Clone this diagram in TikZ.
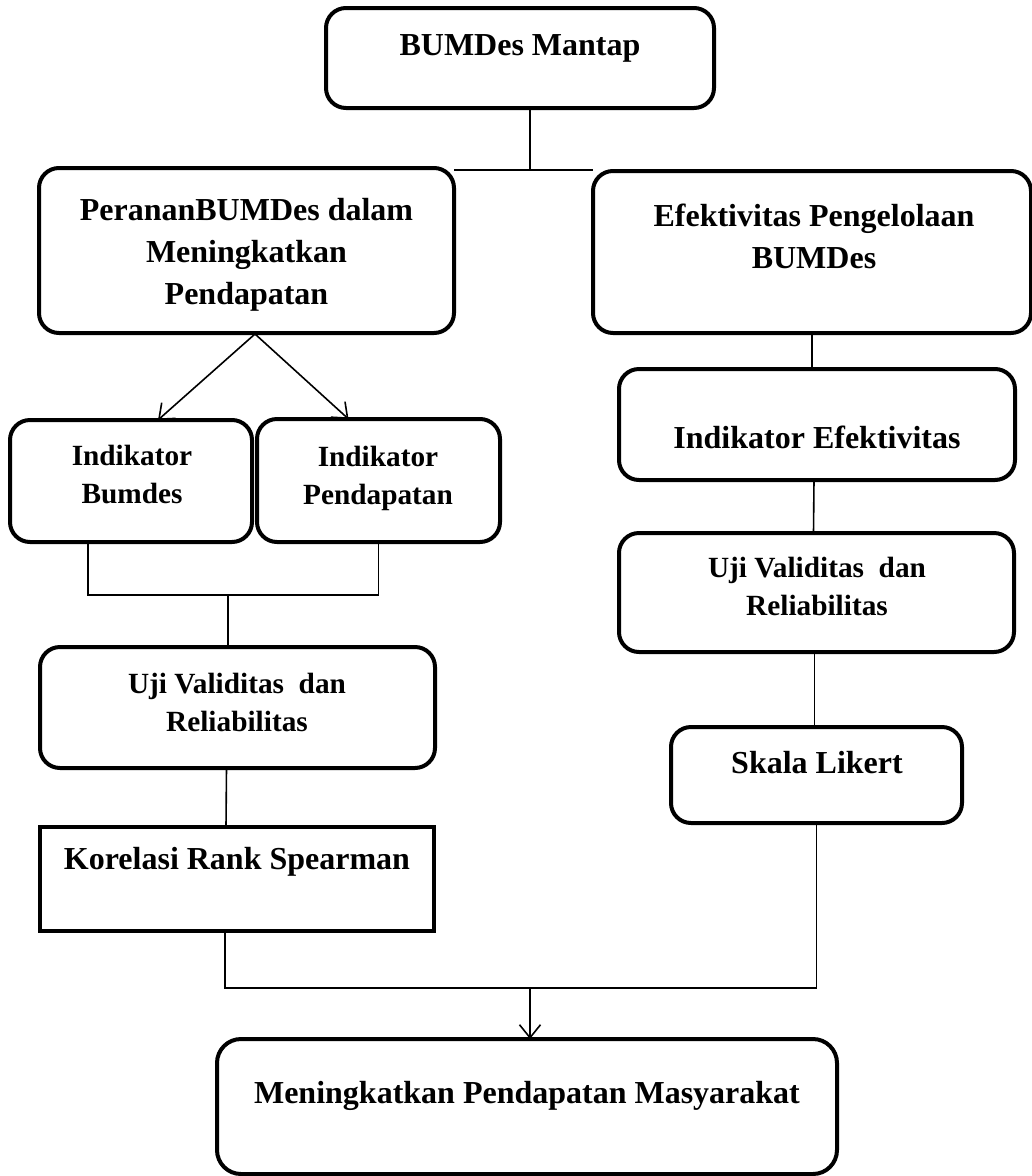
\documentclass[tikz,border=0pt]{standalone}
\usepackage{fontspec}
\setmainfont{Liberation Serif}
\usepackage{tikz}
\usetikzlibrary{arrows.meta, calc}

\begin{document}
\begin{tikzpicture}[
    x=1pt, y=-1pt,
    box/.style 2 args={rectangle, rounded corners=20pt, draw=black, line width=4pt, inner sep=0pt, outer sep=0pt, minimum width=#1, minimum height=#2},
    sqbox/.style 2 args={box={#1}{#2}, sharp corners},
    big/.style={font=\fontsize{32}{42}\selectfont\bfseries, align=center, inner sep=0pt},
    small/.style={font=\fontsize{29.3}{38}\selectfont\bfseries, align=center, inner sep=0pt},
    link/.style={draw=black, line width=1.6pt},
    arr/.style={link, -{Straight Barb[length=13pt, width=21pt]}},
]
\useasboundingbox (0,0) rectangle (1032,1176);

% boxes
\node[box={388pt}{100pt}] (mantap) at (520,58) {};
\node[box={415pt}{165pt}] (peranan) at (246.5,250.5) {};
\node[box={438pt}{162pt}] (efektif) at (812,252) {};
\node[box={242pt}{122pt}] (indbum) at (131,481) {};
\node[box={243pt}{123pt}] (indpend) at (378.5,480.5) {};
\node[box={396pt}{111pt}] (indefek) at (817,424.5) {};
\node[box={395pt}{119pt}] (ujikanan) at (816.5,592.5) {};
\node[box={291pt}{96pt}] (skala) at (816.5,775) {};
\node[box={395pt}{121pt}] (ujikiri) at (237.5,707.5) {};
\node[sqbox={394pt}{104pt}] (korelasi) at (237,879) {};
\node[box={620pt}{135pt}, rounded corners=24pt] (hasil) at (527,1106.5) {};

% texts
\node[big, anchor=base] (t-mantap) at (520,55) {BUMDes Mantap};
\node[big] (t-peranan) at (246.5,255) {PerananBUMDes dalam\\Meningkatkan\\Pendapatan};
\node[big] (t-efektif) at (814,236.5) {Efektivitas Pengelolaan\\BUMDes};
\node[small] (t-indbum) at (132,475) {Indikator\\Bumdes};
\node[small] (t-indpend) at (378,478) {Indikator\\Pendapatan};
\node[big, anchor=base] (t-indefek) at (817,448) {Indikator Efektivitas};
\node[small] (t-ujikanan) at (817,586.5) {Uji Validitas~ dan\\Reliabilitas};
\node[big, anchor=base] (t-skala) at (817,773) {Skala Likert};
\node[small] (t-ujikiri) at (237,702.5) {Uji Validitas~ dan\\Reliabilitas};
\node[big, anchor=base] (t-korelasi) at (237,869) {Korelasi Rank Spearman};
\node[big, anchor=base] (t-hasil) at (527,1103) {Meningkatkan Pendapatan Masyarakat};

% connectors
\coordinate (top) at (530,170);
\coordinate (fork) at (255,334);
\coordinate (midL) at (228,595);
\coordinate (midB) at (530,988);

\draw[link] (top |- mantap.south) -- (top);
\draw[link] (peranan.north east |- top) -- (efektif.north west |- top);
\draw[arr] (fork) -- ([xshift=27pt]indbum.north);
\draw[arr] (fork) -- ([xshift=-30pt]indpend.north);
\draw[link] ([xshift=-43pt]indbum.south) |- (indpend.south |- midL) -- (indpend.south);
\draw[link] (midL) -- (midL |- ujikiri.north);
\draw[link] ([xshift=-11pt]ujikiri.south) -- ([xshift=-11pt]korelasi.north);
\draw[link] ([xshift=-12pt]korelasi.south) |- (skala.south |- midB) -- (skala.south);
\draw[arr] (midB) -- (midB |- hasil.north);

\draw[link] (efektif.south) -- (efektif.south |- indefek.north);
\draw[link] ([xshift=-3pt]indefek.south) -- ([xshift=-3pt]ujikanan.north);
\draw[link] ([xshift=-2pt]ujikanan.south) -- ([xshift=-2pt]skala.north);
\end{tikzpicture}
\end{document}
